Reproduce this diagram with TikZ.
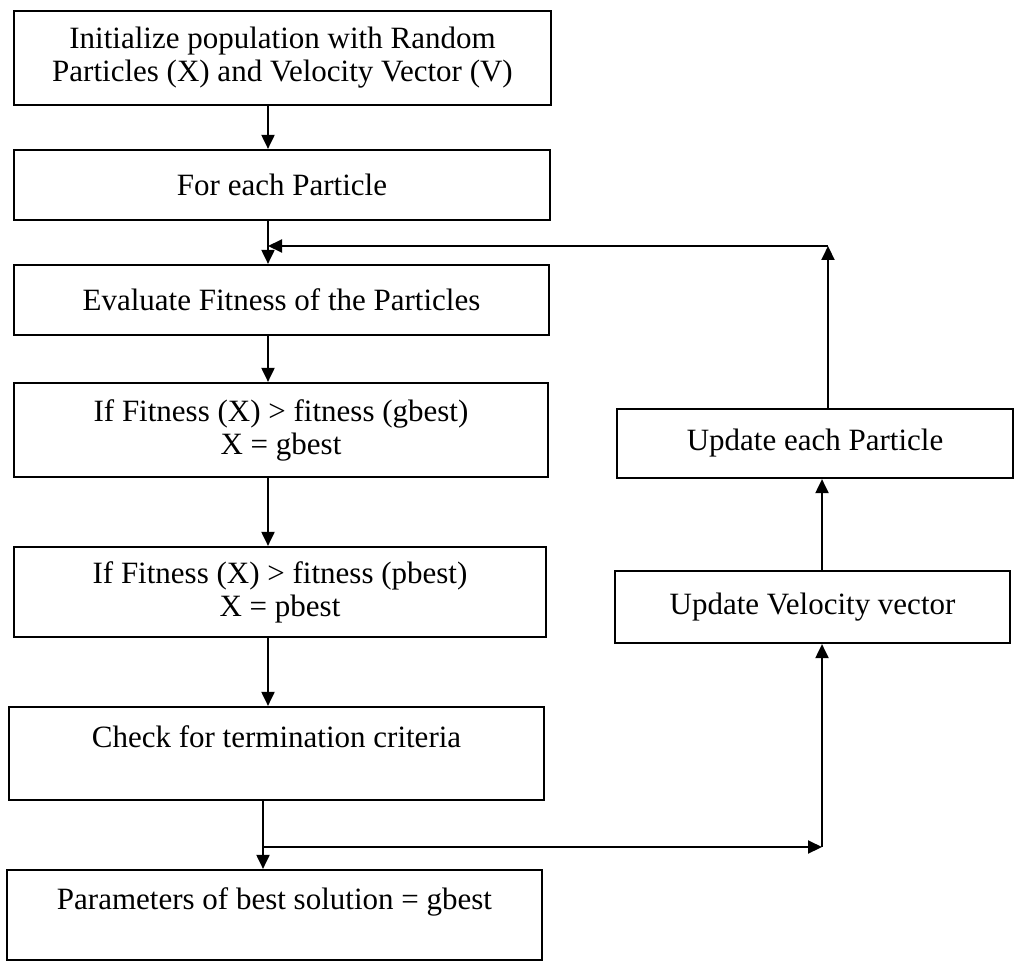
\documentclass[tikz,border=0pt]{standalone}
\usepackage{fontspec}
\setmainfont{Liberation Serif}
\usetikzlibrary{arrows.meta}
\usetikzlibrary{positioning}

\tikzset{
  box/.style={draw, line width=1.1pt, align=center, inner sep=0pt},
  arr/.style={line width=1pt, -{Triangle[length=7pt,width=6.5pt]}}
}

\begin{document}
\begin{tikzpicture}[x=0.5pt, y=-0.5pt, font=\fontsize{15.5}{16.5}\selectfont]
      \useasboundingbox (0,0) rectangle (1015,962);

      % Define the main column boxes
      \node[box, minimum width=268.5pt, minimum height=47pt] (init) at (282.5,58)
        {Initialize population with Random\\Particles (X) and Velocity Vector (V)};
      \node[box, minimum width=268pt, minimum height=35pt] (each) at (282,185) {For each Particle};
      \node[box, minimum width=267.5pt, minimum height=35pt] (eval) at (281.5,300) {Evaluate Fitness of the Particles};
      \node[box, minimum width=267pt, minimum height=47pt] (gbest) at (281,430)
        {If Fitness (X) > fitness (gbest)\\X = gbest};
      \node[box, minimum width=266pt, minimum height=45pt] (pbest) at (280,592)
        {If Fitness (X) > fitness (pbest)\\X = pbest};
      \node[box, minimum width=267.5pt, minimum height=46.5pt] (check) at (276.5,753.5)
        {Check for termination criteria\\ \mbox{}};
      \node[box, minimum width=267.5pt, minimum height=45pt] (params) at (274.5,915)
        {Parameters of best solution = gbest\\ \mbox{}};

      % Define the update boxes
      \node[box, minimum width=198pt, minimum height=34.5pt] (upart) at (815,443.5) {Update each Particle};
      \node[box, minimum width=197.5pt, minimum height=36pt] (uvel) at (812.5,607) {Update Velocity vector};

      % Define the corner points
      \coordinate (spine) at (268,0);
      \coordinate (fb) at (828,246);
      \coordinate (jn) at (263,847);
      \coordinate (rt) at (822,847);

      % Draw the main flow
      \draw[arr] (init.south -| spine) -- (each.north -| spine);
      \draw[arr] (each.south -| spine) -- (eval.north -| spine);
      \draw[arr] (eval.south -| spine) -- (gbest.north -| spine);
      \draw[arr] (gbest.south -| spine) -- (pbest.north -| spine);
      \draw[arr] (pbest.south -| spine) -- (check.north -| spine);
      \draw[arr] (check.south -| jn) -- (params.north -| jn);

      % Draw the loop back
      \draw[arr] (jn) -- (rt);
      \draw[arr] (rt) -- (uvel.south -| rt);
      \draw[arr] (uvel.north -| rt) -- (upart.south -| rt);
      \draw[arr] (upart.north -| fb) -- (fb);
      \draw[arr] (fb) -- (fb -| spine);
    \end{tikzpicture}
\end{document}
